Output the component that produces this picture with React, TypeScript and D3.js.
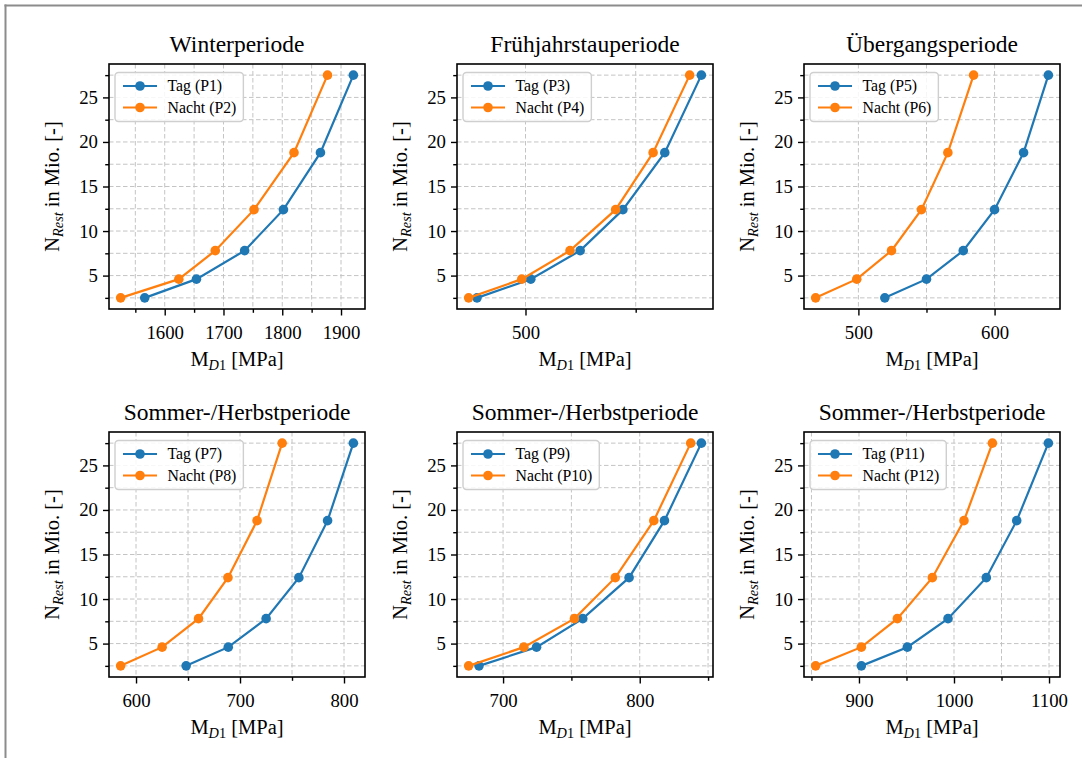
import * as d3 from "d3";
import { useEffect, useRef } from "react";

// remaining load cycles (same for all panels), in Mio.
const nRest = [2.5, 4.6, 7.8, 12.4, 18.8, 27.5];

const titles = [
  "Winterperiode",
  "Frühjahrstauperiode",
  "Übergangsperiode",
  "Sommer-/Herbstperiode",
  "Sommer-/Herbstperiode",
  "Sommer-/Herbstperiode",
];

const tagLabels = ["Tag (P1)", "Tag (P3)", "Tag (P5)", "Tag (P7)", "Tag (P9)", "Tag (P11)"];
const nachtLabels = ["Nacht (P2)", "Nacht (P4)", "Nacht (P6)", "Nacht (P8)", "Nacht (P10)", "Nacht (P12)"];

// M_D1 in MPa
const tagMD1 = [
  [1566, 1654, 1736, 1802, 1865, 1921],
  [478, 502.4, 524.8, 544.2, 563.2, 579.8],
  [519.4, 550, 577, 600, 621.3, 639.5],
  [648.2, 688.7, 725.1, 756.6, 784.2, 809],
  [682.4, 724.5, 758.3, 792.2, 818.1, 845.1],
  [902.5, 950.9, 993.7, 1034, 1066, 1099.3],
];
const nachtMD1 = [
  [1525, 1624, 1686, 1752, 1820, 1877],
  [474.2, 498.3, 520.2, 540.9, 557.9, 574.5],
  [468.6, 498.8, 524.3, 546.3, 565.7, 584.6],
  [585.2, 625.1, 660.1, 688.4, 716.4, 740.5],
  [674.8, 715.2, 752.2, 782.1, 810.3, 837.3],
  [854.4, 902.5, 940.4, 977.2, 1010.5, 1040.4],
];

const yMajorTicks = [5, 10, 15, 20, 25];
const yMinorTicks = [2.5, 7.5, 12.5, 17.5, 22.5, 27.5];

const BLUE = "#1f77b4";
const ORANGE = "#ff7f0e";
const FONT = "'Liberation Serif', 'Times New Roman', serif";

const App = () => {
  const ref = useRef<HTMLDivElement>(null);

  useEffect(() => {
    d3.select(ref.current).select("svg").remove();

    const W = 1082, H = 758;
    const colLeft = [109, 457, 804];
    const rowTop = [64, 432];
    const pw = 256, ph = 245;

    const svg = d3
      .select(ref.current)
      .append("svg")
      .attr("width", W)
      .attr("height", H)
      .style("position", "absolute")
      .style("left", "0px")
      .style("top", "0px")
      .style("background", "#fff")
      .style("font-family", FONT);

    // page frame (top + left edge of the scan)
    svg.append("line").attr("x1", 4.5).attr("x2", W).attr("y1", 5.5).attr("y2", 5.5)
      .attr("stroke", "#8c8c8c").attr("stroke-width", 2);
    svg.append("line").attr("x1", 5.5).attr("x2", 5.5).attr("y1", 4.5).attr("y2", H)
      .attr("stroke", "#8c8c8c").attr("stroke-width", 2);

    titles.forEach((title, i) => {
      const left = colLeft[i % 3];
      const top = rowTop[Math.floor(i / 3)];
      const tag = tagMD1[i];
      const nacht = nachtMD1[i];

      // matplotlib-like 5% margins
      const [lo, hi] = d3.extent(tag.concat(nacht)) as [number, number];
      const pad = (hi - lo) * 0.05;
      const x = d3.scaleLinear().domain([lo - pad, hi + pad]).range([0, pw]);
      const y = d3.scaleLinear().domain([1.25, 28.75]).range([ph, 0]);

      const xAll = d3.range(Math.ceil((lo - pad) / 50) * 50, hi + pad, 50);
      const xMajor = xAll.filter((v) => v % 100 === 0);
      const xMinor = xAll.filter((v) => v % 100 !== 0);

      const g = svg.append("g").attr("transform", `translate(${left},${top})`);

      // grid
      const grid = g.append("g").attr("stroke", "#c4c4c4").attr("stroke-width", 1)
        .attr("stroke-dasharray", "4.5,2.5");
      grid.selectAll("line.gx").data(xAll).join("line").attr("class", "gx")
        .attr("x1", (d) => x(d)).attr("x2", (d) => x(d)).attr("y1", 0).attr("y2", ph);
      grid.selectAll("line.gy").data(yMajorTicks.concat(yMinorTicks)).join("line").attr("class", "gy")
        .attr("x1", 0).attr("x2", pw).attr("y1", (d) => y(d)).attr("y2", (d) => y(d));

      // axes
      const styleAxis = (sel) => {
        sel.select(".domain").remove();
        sel.selectAll("line").attr("stroke", "#000").attr("stroke-width", 1.4);
        sel.selectAll("text").attr("fill", "#000").style("font-family", FONT).style("font-size", "18.8px");
      };
      g.append("g").attr("transform", `translate(0,${ph})`)
        .call(d3.axisBottom(x).tickValues(xMajor).tickSize(6.5).tickPadding(10).tickFormat(d3.format("d")))
        .call(styleAxis);
      g.append("g").attr("transform", `translate(0,${ph})`)
        .call(d3.axisBottom(x).tickValues(xMinor).tickSize(3.8).tickFormat(() => ""))
        .call(styleAxis);
      g.append("g")
        .call(d3.axisLeft(y).tickValues(yMajorTicks).tickSize(6).tickPadding(5).tickFormat(d3.format("d")))
        .call(styleAxis);
      g.append("g")
        .call(d3.axisLeft(y).tickValues(yMinorTicks).tickSize(3.8).tickFormat(() => ""))
        .call(styleAxis);

      // series
      const line = d3.line<number>().x((d) => x(d)).y((_, k) => y(nRest[k]));
      [
        { vals: tag, color: BLUE },
        { vals: nacht, color: ORANGE },
      ].forEach((s) => {
        g.append("path").attr("d", line(s.vals)).attr("fill", "none")
          .attr("stroke", s.color).attr("stroke-width", 2.2);
        g.selectAll(null).data(s.vals).join("circle")
          .attr("cx", (d) => x(d)).attr("cy", (_, k) => y(nRest[k]))
          .attr("r", 4.8).attr("fill", s.color);
      });

      // frame
      g.append("rect").attr("width", pw).attr("height", ph).attr("fill", "none")
        .attr("stroke", "#000").attr("stroke-width", 1.6);

      // title
      g.append("text").attr("x", pw / 2).attr("y", -12.5).attr("text-anchor", "middle")
        .style("font-size", "23.5px").attr("fill", "#000").text(title);

      // x label  M_D1 [MPa]
      const xl = g.append("text").attr("x", pw / 2).attr("y", ph + 57).attr("text-anchor", "middle")
        .style("font-size", "20.5px").attr("fill", "#000");
      xl.append("tspan").text("M");
      xl.append("tspan").attr("dy", 4).style("font-size", "14.3px").style("font-style", "italic").text("D");
      xl.append("tspan").style("font-size", "14.3px").text("1");
      xl.append("tspan").attr("dy", -4).text(" [MPa]");

      // y label  N_Rest in Mio. [-]
      const yl = g.append("text")
        .attr("transform", `translate(${-50},${ph / 2}) rotate(-90)`)
        .attr("text-anchor", "middle").style("font-size", "20.5px").attr("fill", "#000");
      yl.append("tspan").text("N");
      yl.append("tspan").attr("dy", 4).style("font-size", "14.3px").style("font-style", "italic").text("Rest");
      yl.append("tspan").attr("dy", -4).text(" in Mio. [-]");

      // legend
      const lg = g.append("g").attr("transform", "translate(6,8.5)");
      const box = lg.append("rect").attr("rx", 3.5).attr("fill", "#fff").attr("fill-opacity", 0.85)
        .attr("stroke", "#cfcfcf").attr("stroke-width", 1.4);
      const entries = [
        { label: tagLabels[i], color: BLUE },
        { label: nachtLabels[i], color: ORANGE },
      ];
      let maxW = 0;
      entries.forEach((e, k) => {
        const cy = 13.5 + k * 21.5;
        lg.append("line").attr("x1", 8).attr("x2", 42).attr("y1", cy).attr("y2", cy)
          .attr("stroke", e.color).attr("stroke-width", 2.2);
        lg.append("circle").attr("cx", 25).attr("cy", cy).attr("r", 4.8).attr("fill", e.color);
        const t = lg.append("text").attr("x", 52.5).attr("y", cy).attr("dy", "0.34em")
          .style("font-size", "15.8px").attr("fill", "#000").text(e.label);
        maxW = Math.max(maxW, (t.node() as SVGTextElement).getComputedTextLength());
      });
      box.attr("width", 52.5 + maxW + 7).attr("height", 49);
    });
  }, []);

  return <div ref={ref} />;
};

export default App;
